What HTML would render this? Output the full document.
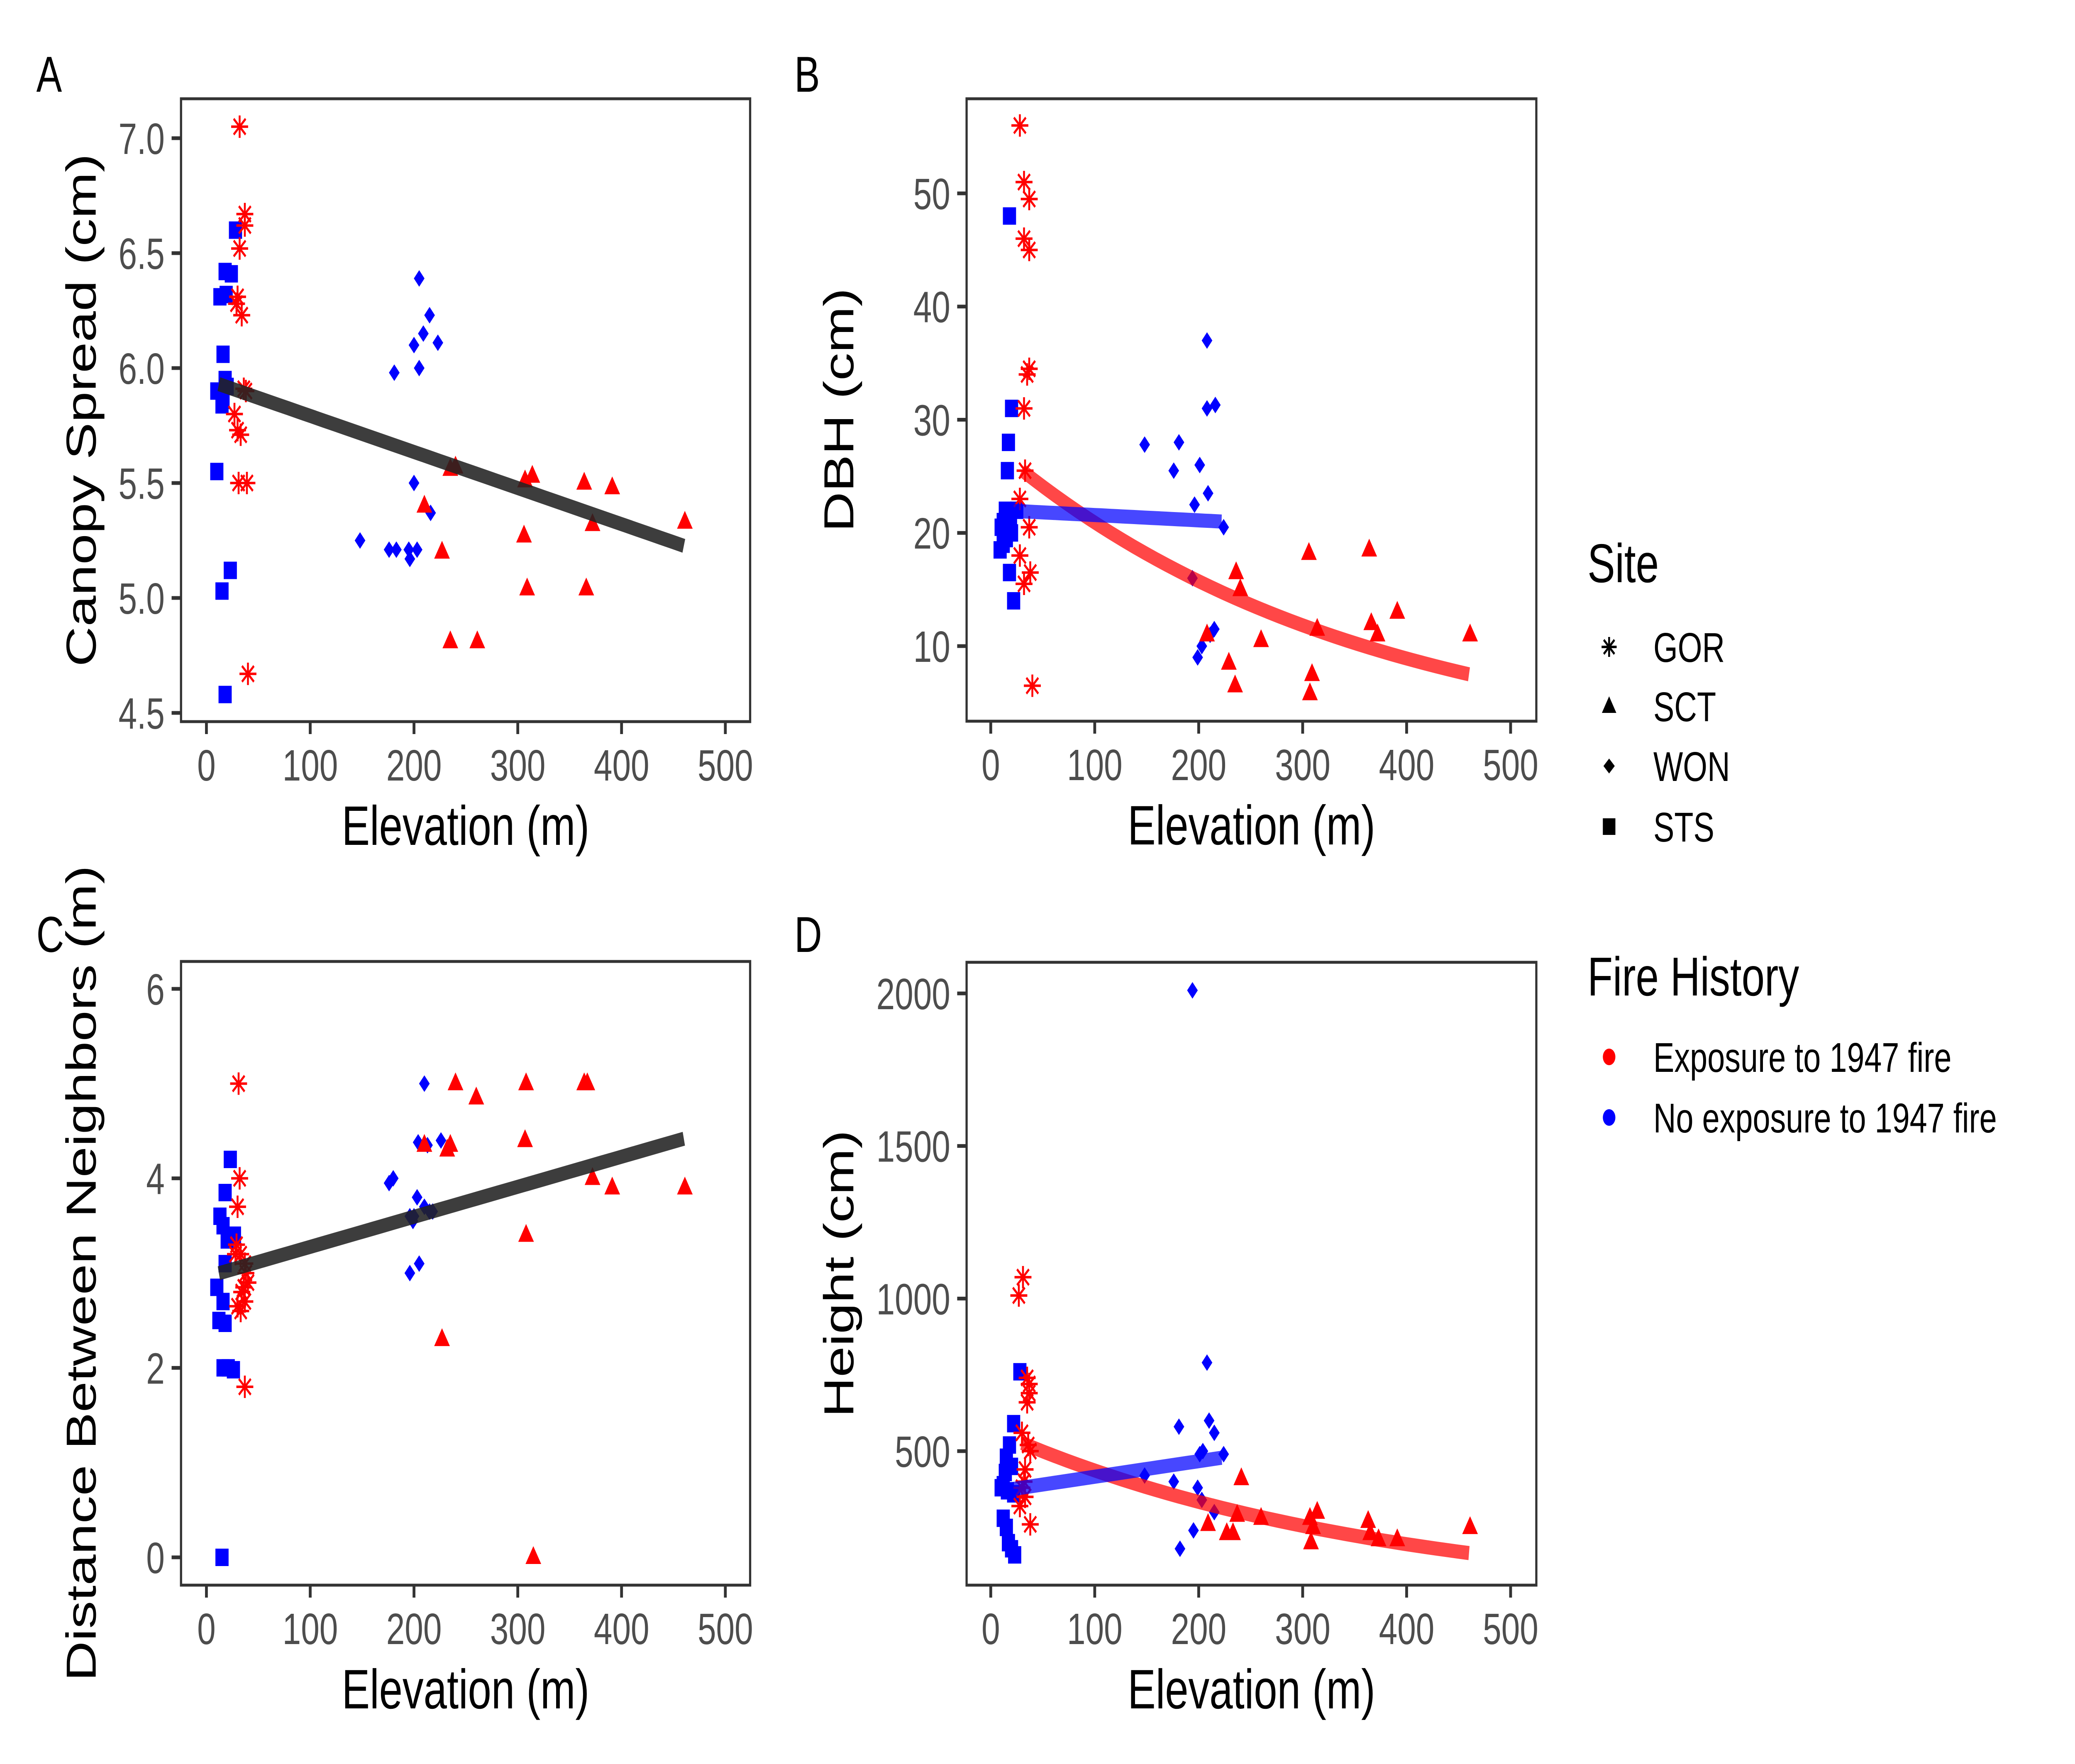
<!DOCTYPE html>
<html><head><meta charset="utf-8">
<style>
html,body{margin:0;padding:0;background:#fff;overflow:hidden;width:100%;height:100%;}
svg{display:block;width:100vw;height:100vh;}
text{font-family:"Liberation Sans",Arial,sans-serif;}
</style></head>
<body>
<svg id="chart" xmlns="http://www.w3.org/2000/svg" viewBox="0 0 6614 4251" preserveAspectRatio="none">
<rect width="6614" height="4251" fill="#fff"/>
<g id="legend">
  <text x="5060" y="1403" font-size="132" fill="#000">Site</text>
  <g>
    <g stroke="#000" stroke-width="6"><line x1="5105" y1="1559" x2="5153" y2="1559"/><line x1="5129" y1="1535" x2="5129" y2="1583"/><line x1="5112" y1="1542" x2="5146" y2="1576"/><line x1="5112" y1="1576" x2="5146" y2="1542"/></g>
    <text x="5270" y="1595" font-size="100">GOR</text></g>
  <g>
    <polygon points="5129,1678 5152,1718 5106,1718" fill="#000"/>
    <text x="5270" y="1738" font-size="100">SCT</text></g>
  <g>
    <polygon points="5129,1828 5147,1846 5129,1864 5111,1846" fill="#000"/>
    <text x="5270" y="1882" font-size="100">WON</text></g>
  <g>
    <rect x="5109" y="1972" width="40" height="40" fill="#000"/>
    <text x="5270" y="2028" font-size="100">STS</text></g>
  <text x="5060" y="2399" font-size="132" fill="#000">Fire History</text>
  <g>
    <circle cx="5129" cy="2547" r="20" fill="#FF0000"/>
    <text x="5270" y="2583" font-size="100">Exposure to 1947 fire</text></g>
  <g>
    <circle cx="5129" cy="2693" r="20" fill="#0000FF"/>
    <text x="5270" y="2729" font-size="100">No exposure to 1947 fire</text></g>
</g>
</svg>
<script>
// ---------- DATA ----------
const xTicks = [0,100,200,300,400,500];

// Panel A: Canopy spread
const aYTicks = [4.5,5.0,5.5,6.0,6.5,7.0];
const aGorX = [32,37,37,32,30,29,34,36,38,27,30,33,31,39,40];
const aGorY = [7.05,6.67,6.62,6.52,6.31,6.28,6.23,5.91,5.90,5.80,5.73,5.71,5.50,5.50,4.67];
const aStsX = [28,18,24,19,13,16,18,20,10,16,15,10,23,15,18];
const aStsY = [6.60,6.42,6.41,6.32,6.31,6.06,5.95,5.92,5.90,5.86,5.84,5.55,5.12,5.03,4.58];
const aWonX = [205,215,209,223,200,205,181,200,216,148,176,183,195,196,203];
const aWonY = [6.39,6.23,6.15,6.11,6.10,6.00,5.98,5.50,5.37,5.25,5.21,5.21,5.21,5.17,5.21];
const aSctX = [240,235,210,227,235,261,307,314,306,309,364,391,372,366,461];
const aSctY = [5.57,5.56,5.40,5.20,4.81,4.81,5.51,5.53,5.27,5.04,5.50,5.48,5.32,5.04,5.33];
const aFitRange = [12,460];
const aFitCoef = [5.949,-0.00157];

// Panel B: DBH
const bYTicks = [10,20,30,40,50];
const bGorX = [28,32,37,32,37,37,35,32,33,28,37,28,38,32,40];
const bGorY = [56,51,49.5,46,45,34.5,34,31,25.5,23,20.5,18,16.5,15.5,6.5];
const bStsX = [18,20,17,16,25,19,12,10,20,15,12,9,18,22,14];
const bStsY = [48,31,28,25.5,22,21.5,21,20.5,20,19.5,19,18.5,16.5,14,22];
const bWonX = [208,216,208,181,148,201,176,209,196,224,194,215,211,203,199];
const bWonY = [37,31.3,31,28,27.8,26,25.5,23.5,22.5,20.5,16,11.5,11,10,9];
const bSctX = [236,240,260,229,235,208,306,314,309,307,364,366,372,391,461];
const bSctY = [16.5,15,10.5,8.5,6.5,11,18.2,11.5,7.5,5.8,18.5,12,11,13,11];
const bRedRange = [30,460];
const bRedCoef = [27.8,-0.002846];
const bBlueRange = [10,222];
const bBlueCoef = [22.05,-0.0047];

// Panel C: Distance between neighbors
const cYTicks = [0,2,4,6];
const cGorX = [31,32,30,29,33,37,38,40,36,34,37,30,33,37,28];
const cGorY = [5.0,4.0,3.7,3.3,3.2,3.1,3.0,2.9,2.85,2.8,2.7,2.65,2.6,1.8,3.2];
const cStsX = [23,18,13,16,27,20,18,10,16,12,18,16,21,26,15];
const cStsY = [4.2,3.85,3.6,3.5,3.4,3.35,3.1,2.85,2.7,2.5,2.47,2.0,2.0,1.98,0];
const cWonX = [210,226,204,180,176,203,215,196,199,205,196,213,210,200,218];
const cWonY = [5.0,4.4,4.38,4.0,3.95,3.8,3.65,3.6,3.55,3.1,3.0,4.35,3.7,3.6,3.65];
const cSctX = [240,260,235,232,210,227,308,307,308,315,364,367,372,391,461];
const cSctY = [5.0,4.85,4.35,4.3,4.35,2.3,5.0,4.4,3.4,0,5.0,5.0,4.0,3.9,3.9];
const cFitRange = [12,460];
const cFitCoef = [2.96,0.00317];

// Panel D: Height
const dYTicks = [500,1000,1500,2000];
const dGorX = [31,27,35,37,37,35,30,36,38,33,32,30,33,28,38];
const dGorY = [1070,1010,740,720,690,660,560,520,500,440,400,380,350,320,260];
const dStsX = [28,22,18,15,20,14,10,16,22,12,15,17,20,23,12];
const dStsY = [760,590,520,480,450,430,380,370,360,280,250,200,180,160,390];
const dWonX = [194,208,210,181,215,204,201,224,148,176,199,203,215,195,182];
const dWonY = [2010,790,600,580,560,500,490,490,420,400,380,340,300,240,180];
const dSctX = [241,237,260,209,227,233,307,314,310,308,363,365,373,391,461];
const dSctY = [410,290,280,260,230,230,280,300,250,200,270,230,210,210,250];
const dRedRange = [30,460];
const dRedCoef = [571,-0.002687];
const dBlueRange = [10,222];
const dBlueCoef = [365,0.51];

// ---------- RENDER ----------
const NS = "http://www.w3.org/2000/svg";
const svg = document.getElementById('chart');
function mk(tag, attrs, parent){
  const e = document.createElementNS(NS, tag);
  for (const k in attrs) e.setAttribute(k, attrs[k]);
  (parent||svg).appendChild(e);
  return e;
}
function linScale(d0,d1,r0,r1){ return v => r0 + (v-d0)*(r1-r0)/(d1-d0); }

function drawPanel(p){
  const g = mk('g',{});
  
  
  const sx = linScale(0,500,p.x0,p.x500);
  const sy = linScale(p.yt0,p.yt1,p.py0,p.py1);
  const L = mk('text',{x:p.letterX,y:p.letterY,'font-size':122,fill:'#000'},g);
  L.textContent = p.letter;
  
  
  xTicks.forEach(t=>{
    const x = sx(t);
    const tl = mk('line',{x1:x,x2:x,y1:p.bottom,y2:p.bottom+30,stroke:'#333',"stroke-width":9},g);
    
    
    const tx = mk('text',{x:x,y:p.bottom+142,'font-size':106,fill:'#4d4d4d','text-anchor':'middle'},g);
    tx.textContent = t;
    
    
  });
  p.yTicks.forEach(t=>{
    const y = sy(t);
    const tl = mk('line',{x1:p.left-30,x2:p.left,y1:y,y2:y,stroke:'#333',"stroke-width":9},g);
    
    
    const tx = mk('text',{x:p.left-52,y:y+38,'font-size':106,fill:'#4d4d4d','text-anchor':'end'},g);
    tx.textContent = p.fmt(t);
    
    
  });
  const xt = mk('text',{x:(p.left+p.right)/2,y:p.bottom+297,'font-size':134,fill:'#000','text-anchor':'middle'},g);
  xt.textContent = 'Elevation (m)';
  
  
  const cy = (p.top+p.bottom)/2;
  const yt = mk('text',{x:p.ytX,y:cy,'font-size':134,fill:'#000','text-anchor':'middle',transform:`rotate(-90 ${p.ytX} ${cy})`},g);
  yt.textContent = p.yTitle;
  
  

  const RED='#FF0000', BLUE='#0000FF';
  function star(x,y,col){
    const s = mk('g',{stroke:col,'stroke-width':6},g);
    
    
    const r=27, d=19;
    mk('line',{x1:x-r,y1:y,x2:x+r,y2:y},s);
    mk('line',{x1:x,y1:y-r,x2:x,y2:y+r},s);
    mk('line',{x1:x-d,y1:y-d,x2:x+d,y2:y+d},s);
    mk('line',{x1:x-d,y1:y+d,x2:x+d,y2:y-d},s);
  }
  function square(x,y,col){
    const s = mk('rect',{x:x-21,y:y-21,width:42,height:42,fill:col},g);
    
    
  }
  function diamond(x,y,col){
    const s = mk('polygon',{points:`${x},${y-20} ${x+17},${y} ${x},${y+20} ${x-17},${y}`,fill:col},g);
    
    
  }
  function tri(x,y,col){
    const s = mk('polygon',{points:`${x},${y-27} ${x+25},${y+16} ${x-25},${y+16}`,fill:col},g);
    
    
  }
  p.sts[0].forEach((v,i)=>square(sx(v),sy(p.sts[1][i]),BLUE));
  p.won[0].forEach((v,i)=>diamond(sx(v),sy(p.won[1][i]),BLUE));
  p.sct[0].forEach((v,i)=>tri(sx(v),sy(p.sct[1][i]),RED));
  p.gor[0].forEach((v,i)=>star(sx(v),sy(p.gor[1][i]),RED));

  p.fits.forEach(f=>{
    const pts=[];
    for(let k=0;k<=40;k++){
      const xv = f.range[0] + (f.range[1]-f.range[0])*k/40;
      const yv = f.exp ? f.coef[0]*Math.exp(f.coef[1]*xv) : f.coef[0]+f.coef[1]*xv;
      pts.push(sx(xv).toFixed(1)+','+sy(yv).toFixed(1));
    }
    const pl = mk('polyline',{points:pts.join(' '),fill:'none',stroke:f.color,'stroke-width':34,'stroke-opacity':f.op},g);
    
    
  });
  const b = mk('rect',{x:p.left,y:p.top,width:p.right-p.left,height:p.bottom-p.top,fill:'none',stroke:'#333','stroke-width':7},g);
  
  
}

drawPanel({name:'panel-a-canopy-spread',letter:'A',letterX:116,letterY:221,left:577,right:2391,top:238,bottom:1739,
  x0:658,x500:2312,yt0:4.5,yt1:7.0,py0:1718,py1:333,yTicks:aYTicks,fmt:v=>v.toFixed(1),
  yTitle:'Canopy Spread (cm)',ytX:305,
  gor:[aGorX,aGorY],sts:[aStsX,aStsY],won:[aWonX,aWonY],sct:[aSctX,aSctY],
  fits:[{name:'fit-line-overall',range:aFitRange,coef:aFitCoef,exp:false,color:'#222',op:0.88}]});

drawPanel({name:'panel-b-dbh',letter:'B',letterX:2532,letterY:221,left:3081,right:4897,top:238,bottom:1738,
  x0:3158,x500:4815,yt0:10,yt1:50,py0:1557,py1:466,yTicks:bYTicks,fmt:v=>String(v),
  yTitle:'DBH (cm)',ytX:2720,
  gor:[bGorX,bGorY],sts:[bStsX,bStsY],won:[bWonX,bWonY],sct:[bSctX,bSctY],
  fits:[{name:'fit-line-exposed',range:bRedRange,coef:bRedCoef,exp:true,color:'#FF0000',op:0.72},
        {name:'fit-line-not-exposed',range:bBlueRange,coef:bBlueCoef,exp:false,color:'#0000FF',op:0.72}]});

drawPanel({name:'panel-c-distance',letter:'C',letterX:116,letterY:2294,left:577,right:2391,top:2317,bottom:3820,
  x0:658,x500:2312,yt0:0,yt1:6,py0:3753,py1:2383,yTicks:cYTicks,fmt:v=>String(v),
  yTitle:'Distance Between Neighbors (m)',ytX:305,
  gor:[cGorX,cGorY],sts:[cStsX,cStsY],won:[cWonX,cWonY],sct:[cSctX,cSctY],
  fits:[{name:'fit-line-overall',range:cFitRange,coef:cFitCoef,exp:false,color:'#222',op:0.88}]});

drawPanel({name:'panel-d-height',letter:'D',letterX:2532,letterY:2294,left:3081,right:4897,top:2319,bottom:3820,
  x0:3158,x500:4815,yt0:500,yt1:2000,py0:3497,py1:2394,yTicks:dYTicks,fmt:v=>String(v),
  yTitle:'Height (cm)',ytX:2720,
  gor:[dGorX,dGorY],sts:[dStsX,dStsY],won:[dWonX,dWonY],sct:[dSctX,dSctY],
  fits:[{name:'fit-line-exposed',range:dRedRange,coef:dRedCoef,exp:true,color:'#FF0000',op:0.72},
        {name:'fit-line-not-exposed',range:dBlueRange,coef:dBlueCoef,exp:false,color:'#0000FF',op:0.72}]});
</script>
</body></html>
